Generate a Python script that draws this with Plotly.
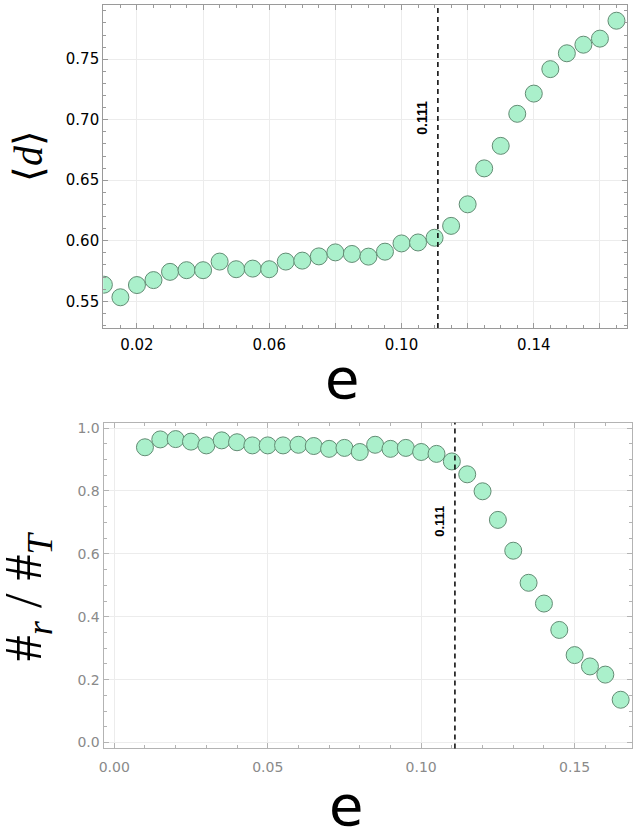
import plotly.graph_objects as go

# ---- data ----
e_top = [0.010, 0.015, 0.020, 0.025, 0.030, 0.035, 0.040, 0.045, 0.050, 0.055,
         0.060, 0.065, 0.070, 0.075, 0.080, 0.085, 0.090, 0.095, 0.100, 0.105,
         0.110, 0.115, 0.120, 0.125, 0.130, 0.135, 0.140, 0.145, 0.150, 0.155,
         0.160, 0.165]
d_mean = [0.5637, 0.5533, 0.5634, 0.5675, 0.5743, 0.5757, 0.5757, 0.5828, 0.5765, 0.5770,
          0.5765, 0.5828, 0.5836, 0.5871, 0.5904, 0.5891, 0.5869, 0.5910, 0.5978, 0.5986,
          0.6025, 0.6123, 0.6301, 0.6598, 0.6784, 0.7049, 0.7216, 0.7418, 0.7549, 0.7620,
          0.7670, 0.7818]

e_bot = [0.010, 0.015, 0.020, 0.025, 0.030, 0.035, 0.040, 0.045, 0.050, 0.055,
         0.060, 0.065, 0.070, 0.075, 0.080, 0.085, 0.090, 0.095, 0.100, 0.105,
         0.110, 0.115, 0.120, 0.125, 0.130, 0.135, 0.140, 0.145, 0.150, 0.155,
         0.160, 0.165]
ratio = [0.939, 0.964, 0.965, 0.957, 0.945, 0.961, 0.955, 0.945, 0.945, 0.945,
         0.947, 0.943, 0.934, 0.937, 0.924, 0.947, 0.934, 0.937, 0.924, 0.918,
         0.894, 0.853, 0.799, 0.708, 0.610, 0.508, 0.442, 0.358, 0.278, 0.242,
         0.216, 0.136]

threshold = 0.111
threshold_label = "0.111"

top_xticks = [0.02, 0.04, 0.06, 0.08, 0.10, 0.12, 0.14, 0.16]
top_xtext = ["0.02", "", "0.06", "", "0.10", "", "0.14", ""]
top_yticks = [0.55, 0.60, 0.65, 0.70, 0.75]

W, H = 633, 830
fill = "#aaf0cb"
edge = "#638c74"

fig = go.Figure()
fig.add_trace(go.Scatter(x=e_top, y=d_mean, mode="markers", xaxis="x", yaxis="y",
                         marker=dict(size=17, color=fill, line=dict(color=edge, width=1)),
                         showlegend=False))
fig.add_trace(go.Scatter(x=e_bot, y=ratio, mode="markers", xaxis="x2", yaxis="y2",
                         marker=dict(size=17, color=fill, line=dict(color=edge, width=1)),
                         showlegend=False))

# plot-area pixel boxes
top_box = (99, 627, 2, 327)
bot_box = (99.3, 631.7, 422.3, 750)

def dom_x(b):
    return [b[0] / W, b[1] / W]

def dom_y(b):
    return [(H - b[3]) / H, (H - b[2]) / H]

grid = "#ececec"
common = dict(showline=True, mirror="allticks", ticks="inside", ticklen=5,
              showgrid=True, gridcolor=grid, gridwidth=1, zeroline=False)

fig.update_layout(
    width=W, height=H, margin=dict(l=0, r=0, t=0, b=0),
    plot_bgcolor="white", paper_bgcolor="white",
    xaxis=dict(domain=dom_x(top_box), anchor="y", range=[0.0098, 0.1682],
               tickvals=top_xticks, ticktext=top_xtext, ticklabelstandoff=3,
               linecolor="#9a9a9a", tickcolor="#9a9a9a",
               tickfont=dict(family="DejaVu Sans", size=15, color="black"),
               minor=dict(dtick=0.005, ticks="inside", ticklen=3, tickcolor="#9a9a9a", showgrid=False),
               **common),
    yaxis=dict(domain=dom_y(top_box), anchor="x", range=[0.5279, 0.7948],
               tickvals=top_yticks, tickformat=".2f",
               linecolor="#9a9a9a", tickcolor="#9a9a9a",
               tickfont=dict(family="DejaVu Sans", size=15, color="black"),
               minor=dict(dtick=0.01, tick0=0.55, ticks="inside", ticklen=3, tickcolor="#9a9a9a", showgrid=False),
               **common),
    xaxis2=dict(domain=dom_x(bot_box), anchor="y2", range=[-0.0035, 0.1686],
                dtick=0.05, tick0=0, tickformat=".2f", ticklabelstandoff=6,
                linecolor="#b3b3b3", tickcolor="#b3b3b3",
                tickfont=dict(family="DejaVu Sans", size=14, color="#8a8a8a"),
                minor=dict(dtick=0.01, ticks="inside", ticklen=3, tickcolor="#b3b3b3", showgrid=False),
                **common),
    yaxis2=dict(domain=dom_y(bot_box), anchor="x2", range=[-0.019, 1.017],
                dtick=0.2, tick0=0, tickformat=".1f",
                linecolor="#b3b3b3", tickcolor="#b3b3b3",
                tickfont=dict(family="DejaVu Sans", size=14, color="#8a8a8a"),
                minor=dict(dtick=0.05, ticks="inside", ticklen=3, tickcolor="#b3b3b3", showgrid=False),
                **common),
)

# threshold lines
for xr, yr in (("x", "y domain"), ("x2", "y2 domain")):
    fig.add_shape(type="line", xref=xr, yref=yr, x0=threshold, x1=threshold, y0=0, y1=1,
                  line=dict(color="black", width=1.5, dash="5px,4px"))

fig.add_annotation(x=threshold, y=0.7016, xref="x", yref="y", text="<b>" + threshold_label + "</b>",
                   textangle=-90, showarrow=False, xshift=-16, xanchor="center", yanchor="middle",
                   font=dict(family="Liberation Sans", size=14, color="black"))
fig.add_annotation(x=threshold, y=0.705, xref="x2", yref="y2", text="<b>" + threshold_label + "</b>",
                   textangle=-90, showarrow=False, xshift=-15, xanchor="center", yanchor="middle",
                   font=dict(family="Liberation Sans", size=13, color="black"))

# axis titles
def title(x, y, text, size, family, angle=0):
    fig.add_annotation(x=x / W, y=(H - y) / H, xref="paper", yref="paper", text=text,
                       textangle=angle, showarrow=False, xanchor="center", yanchor="middle",
                       font=dict(family=family, size=size, color="black"))

title(340, 378, "e", 56, "DejaVu Sans")
title(344, 807, "e", 56, "DejaVu Sans")
title(23, 154, "⟨<i>d</i>⟩", 40, "Liberation Serif", -90)
title(23, 597, "#<sub><i>r</i></sub> / #<sub><i>T</i></sub>", 52, "Liberation Serif", -90)

fig.write_html("out.html")
